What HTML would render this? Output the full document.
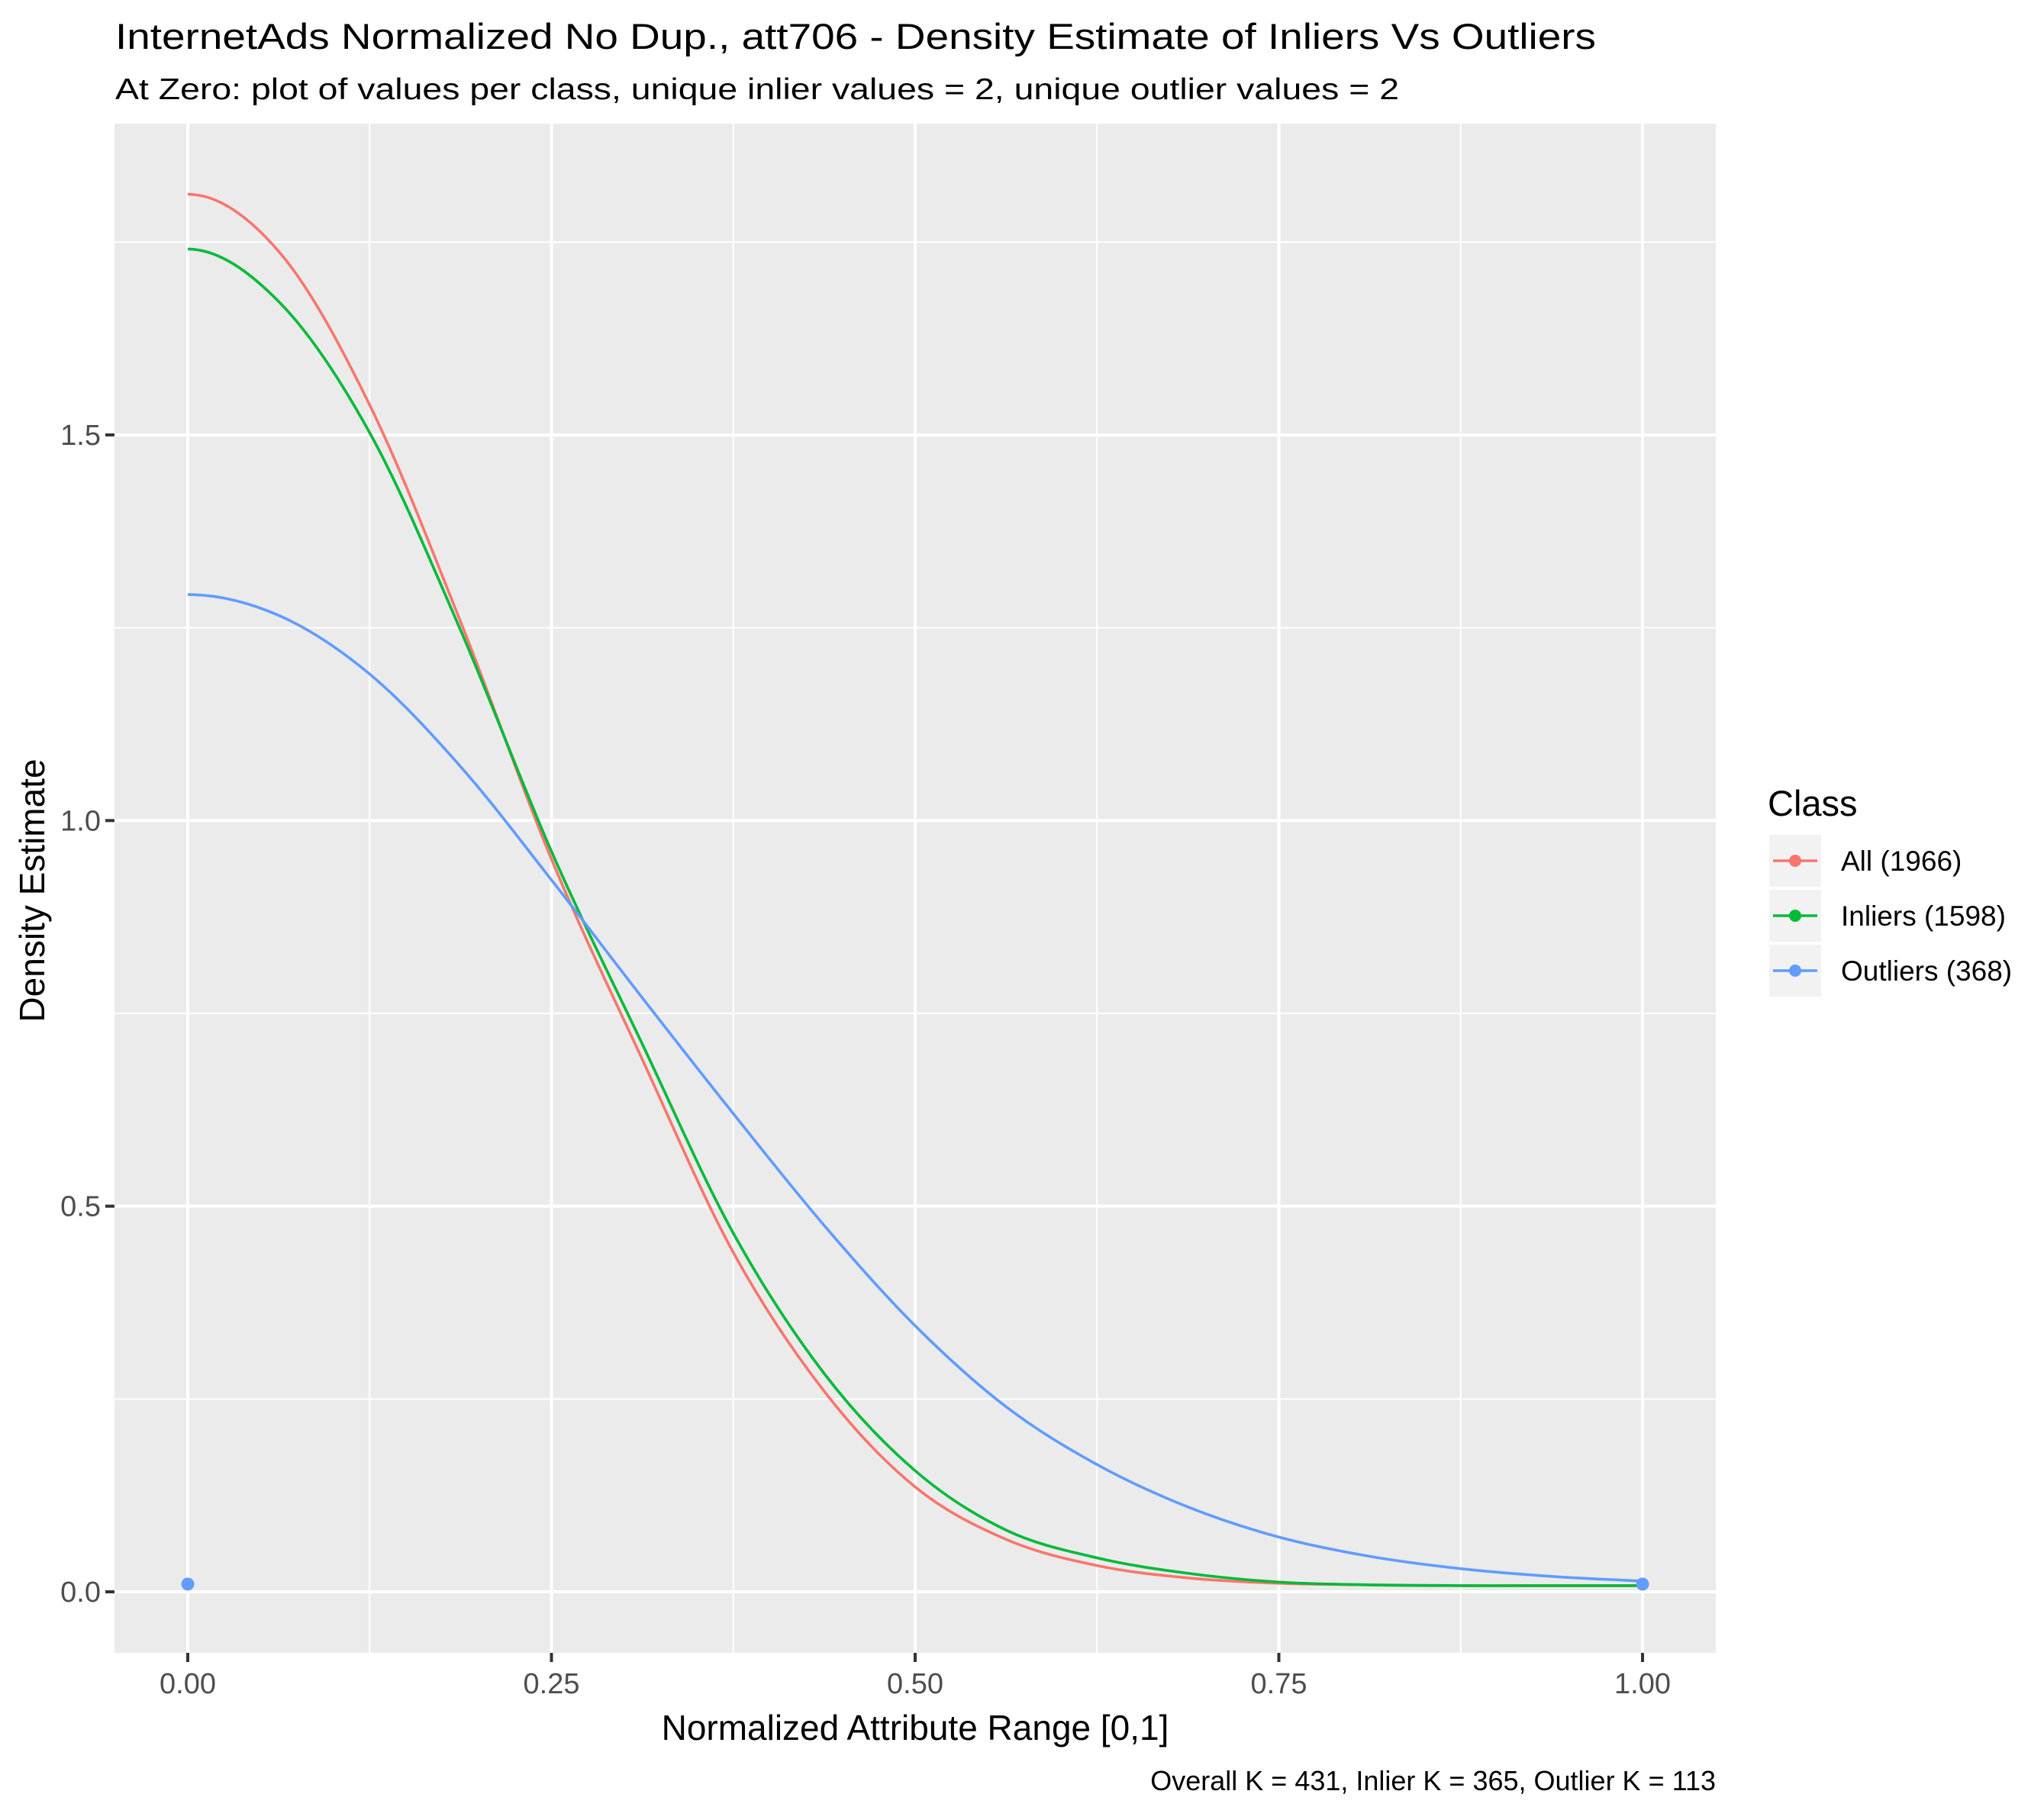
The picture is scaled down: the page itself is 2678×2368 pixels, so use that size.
<!DOCTYPE html>
<html><head><meta charset="utf-8">
<style>
html,body{margin:0;padding:0;background:#fff;}
svg{display:block;font-family:"Liberation Sans",Arial,sans-serif;}
</style></head>
<body>
<svg id="chart" width="2678" height="2368" viewBox="0 0 2678 2368" xmlns="http://www.w3.org/2000/svg">
  <rect width="2678" height="2368" fill="#ffffff"/>
  <text x="151" y="64" font-size="47" fill="#000" textLength="1940" lengthAdjust="spacingAndGlyphs">InternetAds Normalized No Dup., att706 - Density Estimate of Inliers Vs Outliers</text>
  <text x="151" y="130" font-size="39" fill="#000" textLength="1682" lengthAdjust="spacingAndGlyphs">At Zero: plot of values per class, unique inlier values = 2, unique outlier values = 2</text>
  <rect x="150" y="162" width="2098" height="2004" fill="#ebebeb"/>
  <g id="grid"></g>
  <g id="series"></g>
  <g id="axes"></g>
  <text x="1199" y="2280" font-size="46" fill="#000" text-anchor="middle">Normalized Attribute Range [0,1]</text>
  <text transform="translate(58,1167) rotate(-90)" font-size="46" fill="#000" text-anchor="middle">Density Estimate</text>
  <text x="2248" y="2346" font-size="36" fill="#000" text-anchor="end">Overall K = 431, Inlier K = 365, Outlier K = 113</text>
  <g id="legend">
    <text x="2316" y="1069" font-size="47" fill="#000">Class</text>
  </g>
</svg>
<script>
// Data
const xs = [0, 0.0625, 0.125, 0.1875, 0.25, 0.3125, 0.375, 0.4375, 0.5, 0.5625, 0.625, 0.6875, 0.75, 0.8125, 0.875, 0.9375, 1];
const allVals = [1.812, 1.738, 1.539, 1.258, 0.95, 0.69, 0.44, 0.26, 0.136, 0.068, 0.034, 0.018, 0.011, 0.009, 0.008, 0.008, 0.008];
const inlierVals = [1.741, 1.673, 1.503, 1.247, 0.96, 0.71, 0.465, 0.283, 0.157, 0.080, 0.044, 0.024, 0.0126, 0.009, 0.008, 0.008, 0.008];
const outlierVals = [1.293, 1.266, 1.190, 1.07, 0.923, 0.77, 0.62, 0.475, 0.345, 0.24, 0.165, 0.110, 0.071, 0.046, 0.030, 0.020, 0.0138];
const pointXs = [0, 1];
const pointYs = [0.01, 0.01];
const xTicks = [0, 0.25, 0.5, 0.75, 1];
const xTickLabels = ["0.00", "0.25", "0.50", "0.75", "1.00"];
const yTicks = [0, 0.5, 1, 1.5];
const yTickLabels = ["0.0", "0.5", "1.0", "1.5"];
const seriesNames = ["All (1966)", "Inliers (1598)", "Outliers (368)"];
const seriesColors = ["#f8766d", "#00ba38", "#619cff"];

const NS = "http://www.w3.org/2000/svg";
const X0 = 246, XW = 1906, Y0 = 2086, YU = 1010.7;
const PL = 150, PR = 2248, PT = 162, PB = 2166;
function sx(v){ return X0 + XW * v; }
function sy(v){ return Y0 - YU * v; }
function mk(tag, attrs, parent){
  const e = document.createElementNS(NS, tag);
  for (const k in attrs) e.setAttribute(k, attrs[k]);
  parent.appendChild(e);
  return e;
}
const grid = document.getElementById('grid');
const axes = document.getElementById('axes');
const series = document.getElementById('series');
const legend = document.getElementById('legend');

for (let i = 0; i < xTicks.length - 1; i++) {
  const m = (xTicks[i] + xTicks[i+1]) / 2;
  const l = mk('line', {x1: sx(m), x2: sx(m), y1: PT, y2: PB, stroke: '#fff', 'stroke-width': 2}, grid);
  
  
}
for (let i = 0; i < yTicks.length; i++) {
  const m = yTicks[i] + 0.25;
  if (sy(m) < PT) continue;
  const l = mk('line', {x1: PL, x2: PR, y1: sy(m), y2: sy(m), stroke: '#fff', 'stroke-width': 2}, grid);
  
  
}
xTicks.forEach((v, i) => {
  const l = mk('line', {x1: sx(v), x2: sx(v), y1: PT, y2: PB, stroke: '#fff', 'stroke-width': 4}, grid);
  
  
  const t = mk('line', {x1: sx(v), x2: sx(v), y1: PB, y2: PB + 12, stroke: '#333', 'stroke-width': 4}, axes);
  
  
  const tx = mk('text', {x: sx(v), y: 2219, 'font-size': 38, fill: '#4d4d4d', 'text-anchor': 'middle'}, axes);
  tx.textContent = xTickLabels[i];
  
  
});
yTicks.forEach((v, i) => {
  const l = mk('line', {x1: PL, x2: PR, y1: sy(v), y2: sy(v), stroke: '#fff', 'stroke-width': 4}, grid);
  
  
  const t = mk('line', {x1: PL - 12, x2: PL, y1: sy(v), y2: sy(v), stroke: '#333', 'stroke-width': 4}, axes);
  
  
  const tx = mk('text', {x: PL - 18, y: sy(v) + 13, 'font-size': 38, fill: '#4d4d4d', 'text-anchor': 'end'}, axes);
  tx.textContent = yTickLabels[i];
  
  
});

function curvePath(xv, yv){
  const p = xv.map((x, i) => [sx(x), sy(yv[i])]);
  const n = p.length;
  const m = [];
  for (let i = 0; i < n; i++) {
    if (i === 0) m.push(0);
    else if (i === n - 1) m.push((p[i][1] - p[i-1][1]) / (p[i][0] - p[i-1][0]));
    else m.push((p[i+1][1] - p[i-1][1]) / (p[i+1][0] - p[i-1][0]));
  }
  let d = 'M' + p[0][0] + ',' + p[0][1];
  for (let i = 0; i < n - 1; i++) {
    const h = p[i+1][0] - p[i][0];
    const c1 = [p[i][0] + h/3, p[i][1] + m[i]*h/3];
    const c2 = [p[i+1][0] - h/3, p[i+1][1] - m[i+1]*h/3];
    d += ' C' + c1[0] + ',' + c1[1] + ' ' + c2[0] + ',' + c2[1] + ' ' + p[i+1][0] + ',' + p[i+1][1];
  }
  return d;
}
const allSeries = [allVals, inlierVals, outlierVals];
const seriesKeys = ['all', 'inliers', 'outliers'];
allSeries.forEach((vals, k) => {
  const path = mk('path', {d: curvePath(xs, vals), fill: 'none', stroke: seriesColors[k], 'stroke-width': 3.6}, series);
  
  
});
pointXs.forEach((x, i) => {
  const c = mk('circle', {cx: sx(x), cy: sy(pointYs[i]), r: 8.5, fill: '#619cff'}, series);
  
  
});

const rowY = [1128, 1200, 1272];
seriesNames.forEach((name, i) => {
  const g = mk('g', {}, legend);
  
  
  mk('rect', {x: 2318, y: rowY[i] - 34, width: 68, height: 68, fill: '#f2f2f2'}, g);
  mk('line', {x1: 2323, x2: 2381, y1: rowY[i], y2: rowY[i], stroke: seriesColors[i], 'stroke-width': 3.6}, g);
  mk('circle', {cx: 2352, cy: rowY[i], r: 8, fill: seriesColors[i]}, g);
  const t = mk('text', {x: 2412, y: rowY[i] + 13, 'font-size': 37, fill: '#000'}, g);
  t.textContent = name;
});
</script>
</body></html>
